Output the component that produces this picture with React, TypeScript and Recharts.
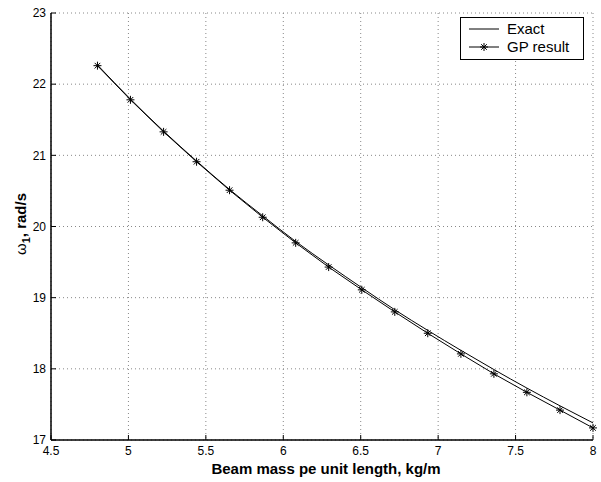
import React from "react";
import {
  LineChart,
  Line,
  XAxis,
  YAxis,
  CartesianGrid,
  Legend,
} from "recharts";

// beam mass per unit length, kg/m
const massValues = [
  4.8, 5.013, 5.227, 5.44, 5.653, 5.867, 6.08, 6.293, 6.507, 6.72, 6.933,
  7.147, 7.36, 7.573, 7.787, 8.0,
];
// exact first natural frequency, rad/s
const exactValues = [
  22.27, 21.79, 21.34, 20.92, 20.52, 20.15, 19.79, 19.46, 19.14, 18.83, 18.54,
  18.26, 17.99, 17.73, 17.48, 17.24,
];
// GP result, rad/s
const gpValues = [
  22.26, 21.78, 21.33, 20.91, 20.51, 20.13, 19.77, 19.43, 19.11, 18.8, 18.5,
  18.21, 17.93, 17.67, 17.42, 17.17,
];
const xTicks = [4.5, 5, 5.5, 6, 6.5, 7, 7.5, 8];
const yTicks = [17, 18, 19, 20, 21, 22, 23];

const data = massValues.map((m, i) => ({
  m,
  exact: exactValues[i],
  gp: gpValues[i],
}));

const FONT = "'Liberation Sans', Arial, Helvetica, sans-serif";

// matlab style '*' marker
const Star = (props: any) => {
  const { cx, cy } = props;
  if (cx == null || cy == null) return null;
  const r = 4;
  const d = r * 0.7;
  return (
    <g stroke="#000" strokeWidth={1}>
      <line x1={cx - r} y1={cy} x2={cx + r} y2={cy} />
      <line x1={cx} y1={cy - r} x2={cx} y2={cy + r} />
      <line x1={cx - d} y1={cy - d} x2={cx + d} y2={cy + d} />
      <line x1={cx - d} y1={cy + d} x2={cx + d} y2={cy - d} />
    </g>
  );
};

const LegendBox = () => (
  <div
    style={{
      border: "1px solid #000",
      background: "#fff",
      width: 124,
      height: 43,
      fontFamily: FONT,
      fontSize: 15,
      color: "#000",
      boxSizing: "border-box",
      padding: "2px 0 0 8px",
      lineHeight: "18px",
    }}
  >
    <div style={{ display: "flex", alignItems: "center" }}>
      <svg width={38} height={12}>
        <line x1={0} y1={6} x2={30} y2={6} stroke="#000" strokeWidth={1} />
      </svg>
      <span>Exact</span>
    </div>
    <div style={{ display: "flex", alignItems: "center" }}>
      <svg width={38} height={12}>
        <line x1={0} y1={6} x2={30} y2={6} stroke="#000" strokeWidth={1} />
        <Star cx={15} cy={6} />
      </svg>
      <span>GP result</span>
    </div>
  </div>
);

const YLabel = () => (
  <text
    x={26}
    y={224}
    transform="rotate(-90, 26, 224)"
    textAnchor="middle"
    fontFamily={FONT}
    fontSize={15}
    fill="#000"
  >
    <tspan>ω</tspan>
    <tspan fontWeight="bold" fontSize={11} dy={4}>
      1
    </tspan>
    <tspan fontWeight="bold" dy={-4}>
      , rad/s
    </tspan>
  </text>
);

const XLabel = (props: any) => {
  const { viewBox } = props;
  return (
    <text
      x={viewBox.x + viewBox.width / 2 + 4}
      y={viewBox.y + 34}
      textAnchor="middle"
      fontFamily={FONT}
      fontSize={15}
      fontWeight="bold"
      fill="#000"
    >
      Beam mass pe unit length, kg/m
    </text>
  );
};

const tickStyle = { fontSize: 12, fill: "#000", fontFamily: FONT };
const frame = { stroke: "#000", strokeWidth: 1.5 };

export default function App() {
  return (
    <div style={{ position: "absolute", left: 0, top: 0, background: "#fff" }}>
      <LineChart
        width={601}
        height={482}
        data={data}
        margin={{ top: 13, right: 8, left: 0, bottom: 0 }}
      >
        <CartesianGrid stroke="#888" strokeDasharray="1 3" />
        <XAxis
          dataKey="m"
          type="number"
          domain={[4.5, 8]}
          ticks={xTicks}
          height={42}
          tick={tickStyle}
          tickSize={-5}
          tickMargin={11}
          stroke="#000"
          axisLine={frame}
          label={<XLabel />}
        />
        <XAxis
          xAxisId="top"
          dataKey="m"
          type="number"
          orientation="top"
          domain={[4.5, 8]}
          ticks={xTicks}
          height={0}
          tick={false}
          tickSize={-5}
          stroke="#000"
          axisLine={frame}
        />
        <YAxis
          type="number"
          domain={[17, 23]}
          ticks={yTicks}
          width={51}
          tick={tickStyle}
          tickSize={-5}
          tickMargin={10}
          stroke="#000"
          axisLine={frame}
          label={<YLabel />}
        />
        <YAxis
          yAxisId="right"
          type="number"
          orientation="right"
          domain={[17, 23]}
          ticks={yTicks}
          width={0}
          tick={false}
          tickSize={-5}
          stroke="#000"
          axisLine={frame}
        />
        <Legend
          layout="vertical"
          align="center"
          verticalAlign="middle"
          content={<LegendBox />}
          wrapperStyle={{ position: "absolute", left: 460, top: 17, width: 124 }}
        />
        <Line
          type="monotone"
          dataKey="exact"
          stroke="#000"
          strokeWidth={1}
          dot={false}
          activeDot={false}
          isAnimationActive={false}
        />
        <Line
          type="linear"
          dataKey="gp"
          stroke="#000"
          strokeWidth={1}
          dot={<Star />}
          activeDot={false}
          isAnimationActive={false}
        />
      </LineChart>
    </div>
  );
}
